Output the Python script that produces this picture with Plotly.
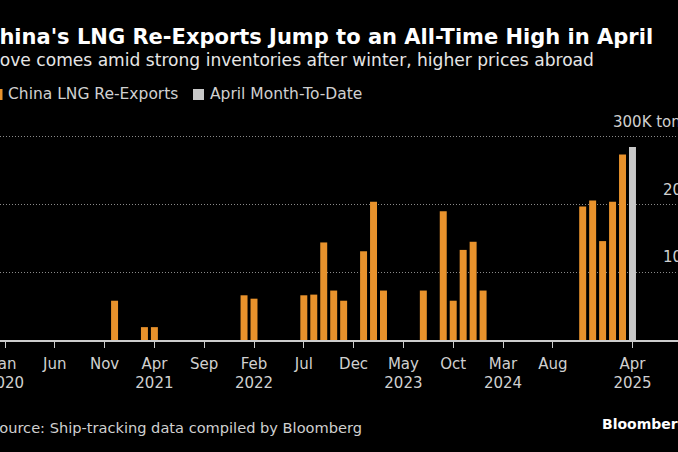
import plotly.graph_objects as go

# ---- data ----
months = [f"{y}-{m:02d}" for y in range(2020, 2026) for m in range(1, 13)][:64]  # Jan 2020 .. Apr 2025

# China LNG re-exports, tons (monthly, Jan 2020 .. Mar 2025)
reexports = [
    0, 0, 0, 0, 0, 0, 0, 0, 0, 0, 0, 58000,                # 2020
    0, 0, 19000, 19000, 0, 0, 0, 0, 0, 0, 0, 0,             # 2021
    66000, 61000, 0, 0, 0, 0, 66000, 67000, 144000, 73000, 58000, 0,   # 2022
    131000, 204000, 73000, 0, 0, 0, 73000, 0, 190000, 58000, 133000, 145000,  # 2023
    73000, 0, 0, 0, 0, 0, 0, 0, 0, 0, 197000, 206000,      # 2024
    146000, 204000, 274000,                                 # 2025 Jan-Mar
]
mtd_month = ["2025-04"]
mtd_value = [285000]

tick_months = ["2020-01", "2020-06", "2020-11", "2021-04", "2021-09", "2022-02", "2022-07",
               "2022-12", "2023-05", "2023-10", "2024-03", "2024-08", "2025-04"]
tick_text = ["Jan<br>2020", "Jun", "Nov", "Apr<br>2021", "Sep", "Feb<br>2022", "Jul",
             "Dec", "May<br>2023", "Oct", "Mar<br>2024", "Aug", "Apr<br>2025"]
y_ticks = [100000, 200000, 300000]
y_tick_text = ["100K", "200K", "300K tons"]

title = "China's LNG Re-Exports Jump to an All-Time High in April"
subtitle = "Move comes amid strong inventories after winter, higher prices abroad"
series_names = ["China LNG Re-Exports", "April Month-To-Date"]
source = "Source: Ship-tracking data compiled by Bloomberg"

ORANGE = "#E8922C"
GREY = "#C8C8C8"
FONT = "DejaVu Sans"

W, H = 678, 452
PLOT_TOP, PLOT_BOT = 130, 340


def px(x):
    return x / W


def py(y):
    return (PLOT_BOT - y) / (PLOT_BOT - PLOT_TOP)


fig = go.Figure()
fig.add_trace(go.Bar(x=months[:63], y=reexports, marker_color=ORANGE, marker_line_width=0,
                     name=series_names[0], showlegend=False))
fig.add_trace(go.Bar(x=mtd_month, y=mtd_value, marker_color=GREY, marker_line_width=0,
                     name=series_names[1], showlegend=False))

ann = []
ann.append(dict(text=f"<b>{title}</b>", x=px(655), y=py(36.5), xanchor="right", yanchor="middle",
                font=dict(family=FONT, size=21, color="#ffffff")))
ann.append(dict(text=subtitle, x=px(596), y=py(60), xanchor="right", yanchor="middle",
                font=dict(family=FONT, size=17.1, color="#e6e6e6")))
ann.append(dict(text=series_names[0], x=px(6), y=py(94), xanchor="left", yanchor="middle",
                font=dict(family=FONT, size=15.5, color="#d0d0d0")))
ann.append(dict(text=series_names[1], x=px(208), y=py(94), xanchor="left", yanchor="middle",
                font=dict(family=FONT, size=15.5, color="#d0d0d0")))
ann.append(dict(text=source, x=px(364), y=py(427), xanchor="right", yanchor="middle",
                font=dict(family=FONT, size=14.6, color="#d0d0d0")))
ann.append(dict(text="<b>Bloomberg</b>", x=px(600), y=py(424), xanchor="left", yanchor="middle",
                font=dict(family=FONT, size=14, color="#ffffff")))
label_x = {100000: 661, 200000: 661, 300000: 611}
for v, t in zip(y_ticks, y_tick_text):
    ann.append(dict(text=t, x=px(label_x[v]), xref="paper", y=v, yref="y", xanchor="left",
                    yanchor="bottom", yshift=4, font=dict(family=FONT, size=15, color="#d0d0d0")))
for a in ann:
    a.setdefault("xref", "paper")
    a.setdefault("yref", "paper")
    a["showarrow"] = False

shapes = [
    dict(type="rect", xref="paper", yref="paper", x0=px(-9), x1=px(2.5), y0=py(100), y1=py(89),
         fillcolor=ORANGE, line_width=0),
    dict(type="rect", xref="paper", yref="paper", x0=px(193), x1=px(204), y0=py(100), y1=py(89),
         fillcolor=GREY, line_width=0),
]

fig.update_layout(
    width=W, height=H,
    margin=dict(l=0, r=0, t=PLOT_TOP, b=H - PLOT_BOT, pad=0, autoexpand=False),
    paper_bgcolor="#000000", plot_bgcolor="#000000",
    bargap=0.3, barmode="overlay",
    annotations=ann, shapes=shapes,
    font=dict(family=FONT, color="#d0d0d0"),
    showlegend=False,
)
fig.update_xaxes(
    type="category", categoryorder="array", categoryarray=months,
    range=[-0.502, 67.57], autorange=False, automargin=False,
    tickmode="array", tickvals=tick_months, ticktext=tick_text,
    ticks="outside", ticklen=6, tickwidth=1, tickcolor="#cccccc",
    ticklabelstandoff=3,
    showline=True, linecolor="#cccccc", linewidth=1.5,
    showgrid=False, zeroline=False,
    tickfont=dict(family=FONT, size=15, color="#d0d0d0"),
)
fig.update_yaxes(
    range=[0, 310000], autorange=False, automargin=False,
    tickmode="array", tickvals=y_ticks, showticklabels=False,
    showgrid=True, gridcolor="#8a8a8a", griddash="1px,2px", gridwidth=1,
    zeroline=False, fixedrange=True,
)

fig.write_html(
    "out.html",
    config={"displayModeBar": False},
    post_script="document.body.style.margin='0';document.body.style.overflow='hidden';"
                "document.documentElement.style.overflow='hidden';",
)
